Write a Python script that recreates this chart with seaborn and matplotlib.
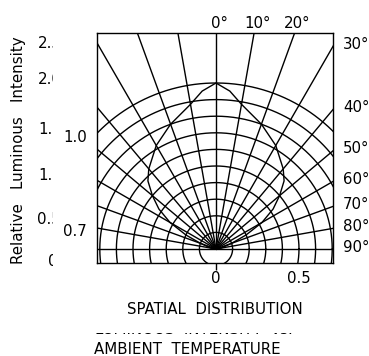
import numpy as np
import pandas as pd
import matplotlib
matplotlib.use("Agg")
import matplotlib.pyplot as plt
from matplotlib.patches import Rectangle
import seaborn as sns

# ---------------- data ----------------
angles_deg = [0, 5, 10, 20, 30, 40, 45, 50, 55, 60, 65, 70, 80, 90]
intensity = [1.0, 0.955, 0.885, 0.80, 0.72, 0.63, 0.58, 0.50, 0.42, 0.32, 0.20, 0.10, 0.03, 0.0]
ray_angles = list(range(-90, 91, 10))
circle_radii = [0.1, 0.2, 0.3, 0.4, 0.5, 0.6, 0.7, 0.8, 0.9, 1.0]
top_labels = [0, 10, 20]
right_labels = [30, 40, 50, 60, 70, 80, 90]
x_ticks = [0, 0.5]
x_tick_labels = ["0", "0.5"]
scale_labels = ["1.0", "0.7"]
clipped_ticks = ["2.5", "2.0", "1.5", "1.0", "0.5", "0"]
ylabel = "Relative   Luminous   Intensity"
title1 = "SPATIAL  DISTRIBUTION"
title2 = "LUMINOUS  INTENSITY  vs."
title3 = "AMBIENT  TEMPERATURE"

# ---------------- style ----------------
sns.set_style("white")
FAM = ["Liberation Sans Narrow", "DejaVu Sans"]
plt.rcParams["font.family"] = FAM
plt.rcParams["text.color"] = "black"
plt.rcParams["xtick.color"] = "black"
plt.rcParams["xtick.labelcolor"] = "black"
FS = 10.8

W, H = 369, 356
fig = plt.figure(figsize=(W / 100, H / 100), dpi=100)

def fx(px):
    return px / W

def fy(py):
    return 1 - py / H

# axes box in pixels
L, R, T, B = 97, 333, 33, 263
cx, cy, unit = 216, 249, 166.0
ax = fig.add_axes([fx(L), fy(B), (R - L) / W, (B - T) / H])
ax.set_xlim((L - cx) / unit, (R - cx) / unit)
ax.set_ylim((cy - B) / unit, (cy - T) / unit)

LW = 1.0
# circles
t = np.linspace(0, 2 * np.pi, 721)
for r in circle_radii:
    ax.plot(r * np.cos(t), r * np.sin(t), color="black", lw=LW)
# rays
for a in ray_angles:
    th = np.deg2rad(a)
    ax.plot([0, 3 * np.sin(th)], [0, 3 * np.cos(th)], color="black", lw=LW)

# distribution curve
ang = np.array(angles_deg, dtype=float)
inten = np.array(intensity, dtype=float)
full_ang = np.concatenate([-ang[::-1], ang[1:]])
full_r = np.concatenate([inten[::-1], inten[1:]])
df = pd.DataFrame({"x": full_r * np.sin(np.deg2rad(full_ang)),
                   "y": full_r * np.cos(np.deg2rad(full_ang))})
sns.lineplot(data=df, x="x", y="y", sort=False, estimator=None,
             color="black", lw=LW, ax=ax)

# axes cosmetics
for s in ax.spines.values():
    s.set_visible(True)
    s.set_color("black")
    s.set_linewidth(1.0)
ax.set_xticks(x_ticks)
ax.set_xticklabels(x_tick_labels, fontsize=FS, color="black")
ax.set_yticks([])
ax.tick_params(axis="x", direction="out", length=5, width=1, pad=1, color="black",
               bottom=True)
ax.xaxis.get_major_ticks()[1].tick1line.set_visible(False)
ax.set_xlabel("")
ax.set_ylabel("")

ytop = ax.get_ylim()[1]
xright = ax.get_xlim()[1]
for a in top_labels:
    xa = ytop * np.tan(np.deg2rad(a))
    ax.annotate(f"{a}°", xy=(xa, ytop), xytext=(3, 10), textcoords="offset pixels",
                ha="center", va="center", fontsize=FS, color="black",
                annotation_clip=False)
for a in right_labels:
    ya = xright / np.tan(np.deg2rad(a)) if a != 90 else 0.0
    ax.annotate(f"{a}°", xy=(xright, ya), xytext=(10, 2), textcoords="offset pixels",
                ha="left", va="center", fontsize=FS, color="black",
                annotation_clip=False)

# scale labels on the left
for lab, py in zip(scale_labels, [137, 231]):
    fig.text(fx(75), fy(py), lab, ha="center", va="center", fontsize=FS, color="black")

# clipped residue tick labels from neighbouring chart
clip_left = Rectangle((0, 0), fx(53), 1, transform=fig.transFigure)
for lab, px_, py in zip(clipped_ticks, [50, 50, 50, 50, 49, 53],
                        [44, 80, 129, 175, 220, 261]):
    tt = fig.text(fx(px_), fy(py), lab, ha="center", va="center", fontsize=FS,
                  color="black")
    tt.set_clip_path(clip_left)
    tt.set_clip_on(True)

fig.text(fx(19), fy(150), ylabel, rotation=90, ha="center", va="center",
         fontsize=FS, color="black")

fig.text(fx(215), fy(310), title1, ha="center", va="center", fontsize=FS, color="black")
tt = fig.text(fx(194), fy(329), title2, ha="center", va="center", fontsize=FS,
              color="black")
tt.set_clip_path(Rectangle((0, 0), 1, fy(332.5), transform=fig.transFigure))
tt.set_clip_on(True)
fig.text(fx(187), fy(349), title3, ha="center", va="center", fontsize=FS, color="black")

fig.savefig("out.png", dpi=100)
